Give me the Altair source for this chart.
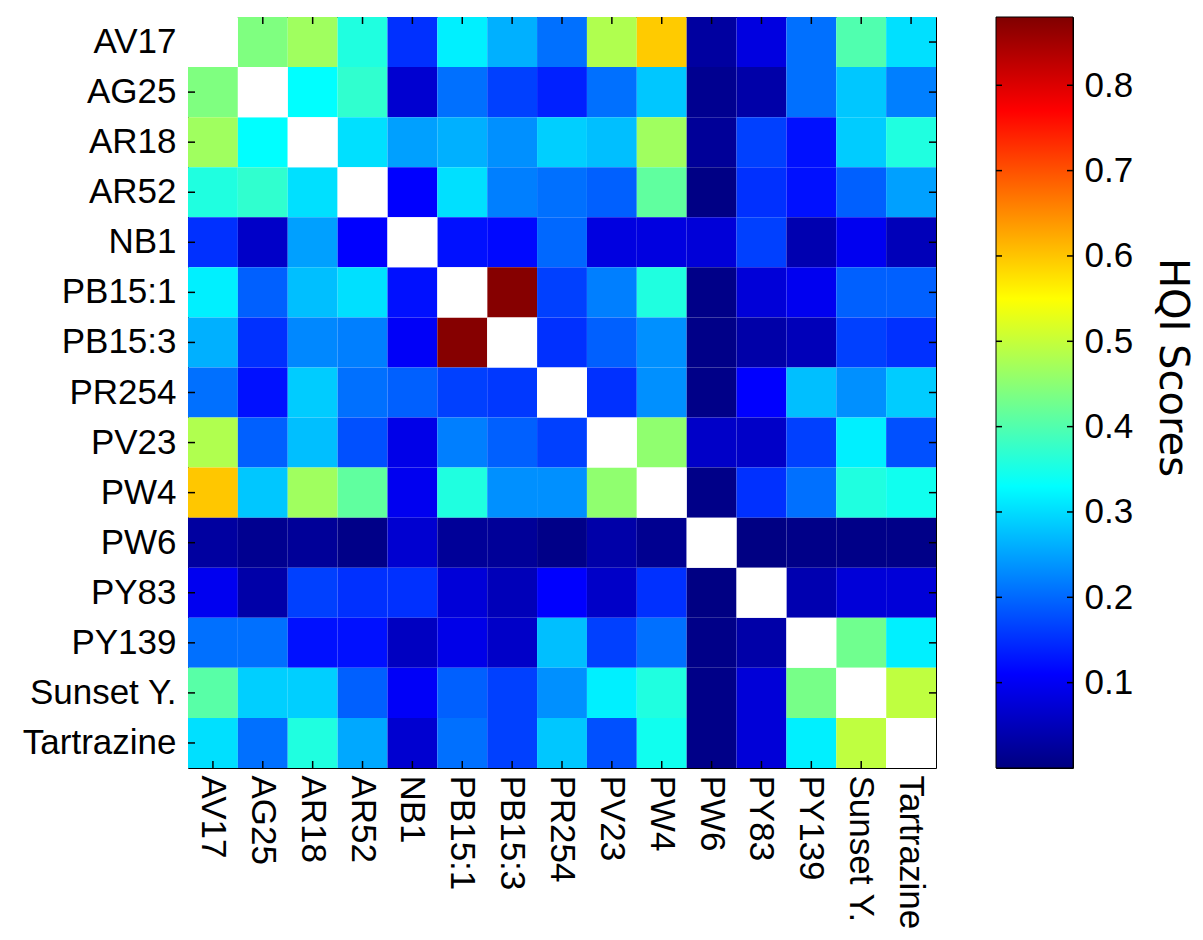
import altair as alt
import pandas as pd

pigments = ["AV17", "AG25", "AR18", "AR52", "NB1", "PB15:1", "PB15:3", "PR254",
            "PV23", "PW4", "PW6", "PY83", "PY139", "Sunset Y.", "Tartrazine"]

# HQI scores, row by row (diagonal left empty)
row_AV17 = [None, .440, .468, .357, .151, .317, .262, .207, .482, .595, .028, .083, .207, .399, .303]
row_AG25 = [.440, None, .330, .371, .069, .207, .165, .138, .207, .282, .014, .035, .207, .282, .220]
row_AR18 = [.468, .330, None, .303, .248, .262, .234, .289, .275, .468, .021, .165, .124, .286, .357]
row_AR52 = [.357, .371, .303, None, .110, .303, .220, .207, .193, .413, .004, .151, .124, .193, .248]
row_NB1 = [.151, .062, .248, .110, None, .124, .117, .200, .083, .083, .076, .165, .042, .097, .049]
row_PB151 = [.317, .193, .275, .303, .124, None, .875, .165, .220, .357, .007, .076, .097, .193, .193]
row_PB153 = [.262, .151, .227, .220, .104, .875, None, .151, .193, .234, .007, .035, .049, .165, .151]
row_PR254 = [.207, .124, .286, .207, .193, .165, .158, None, .151, .234, .007, .110, .275, .234, .286]
row_PV23 = [.482, .193, .275, .179, .090, .220, .193, .165, None, .454, .062, .062, .165, .317, .179]
row_PW4 = [.598, .282, .468, .413, .097, .357, .234, .234, .454, None, .007, .151, .207, .357, .344]
row_PW6 = [.028, .014, .021, .007, .069, .021, .021, .007, .035, .014, None, .003, .007, .007, .007]
row_PY83 = [.097, .035, .165, .151, .151, .076, .049, .110, .062, .151, .003, None, .042, .076, .076]
row_PY139 = [.207, .207, .124, .124, .056, .090, .062, .275, .165, .207, .007, .035, None, .427, .317]
row_Sunset = [.406, .289, .289, .193, .104, .193, .165, .234, .317, .357, .007, .076, .433, None, .495]
row_Tartrazine = [.303, .207, .357, .255, .069, .207, .165, .282, .179, .344, .007, .076, .317, .495, None]

rows = [row_AV17, row_AG25, row_AR18, row_AR52, row_NB1, row_PB151, row_PB153, row_PR254,
        row_PV23, row_PW4, row_PW6, row_PY83, row_PY139, row_Sunset, row_Tartrazine]

cb_ticks = [0.1, 0.2, 0.3, 0.4, 0.5, 0.6, 0.7, 0.8]
cb_min, cb_max = 0.0, 0.88
jet_colors = ["#000080", "#0000ff", "#00ffff", "#ffff00", "#ff0000", "#800000"]
jet_offsets = [0.0, 0.125, 0.375, 0.625, 0.875, 1.0]

records = []
for i, (name, vals) in enumerate(zip(pigments, rows)):
    for j, v in enumerate(vals):
        records.append({"row": name, "col": pigments[j], "hqi": v, "diag": i == j})
df = pd.DataFrame(records)
cells = df[~df["diag"]].copy()
diag = df[df["diag"]].copy()
tick_df = pd.DataFrame({"row": pigments, "col": pigments})

W, H = 748, 751
FONT = "Liberation Sans"

band = alt.Scale(paddingInner=0, paddingOuter=0)
x_enc = alt.X("col:N", sort=pigments, scale=band,
              axis=alt.Axis(title=None, labelAngle=90, labelFontSize=35, labelFont=FONT,
                            labelColor="black", labelPadding=7, ticks=False, domain=False,
                            labelAlign="left", labelBaseline="middle"))
y_enc = alt.Y("row:N", sort=pigments, scale=band,
              axis=alt.Axis(title=None, labelFontSize=35, labelFont=FONT, labelColor="black",
                            labelPadding=12, ticks=False, domain=False))

jet_scale = alt.Scale(domain=[cb_max * o for o in jet_offsets], range=jet_colors,
                      interpolate="rgb", clamp=True)

heat = alt.Chart(cells).mark_rect().encode(
    x=x_enc, y=y_enc,
    color=alt.Color("hqi:Q", scale=jet_scale, legend=None),
)

tick_len = 7
top_ticks = alt.Chart(tick_df).mark_rule(color="black", strokeWidth=1.5).encode(
    x=x_enc, y=alt.value(0), y2=alt.value(tick_len))
bot_ticks = alt.Chart(tick_df).mark_rule(color="black", strokeWidth=1.5).encode(
    x=x_enc, y=alt.value(H - tick_len), y2=alt.value(H))
left_ticks = alt.Chart(tick_df).mark_rule(color="black", strokeWidth=1.5).encode(
    y=y_enc, x=alt.value(0), x2=alt.value(tick_len))
right_ticks = alt.Chart(tick_df).mark_rule(color="black", strokeWidth=1.5).encode(
    y=y_enc, x=alt.value(W - tick_len), x2=alt.value(W))

diag_cells = alt.Chart(diag).mark_rect(color="white").encode(x=x_enc, y=y_enc)

heatmap = alt.layer(heat, top_ticks, bot_ticks, left_ticks, right_ticks, diag_cells).properties(
    width=W, height=H)

# colour bar
CBW = 77
cb_y = alt.Y("lo:Q", scale=alt.Scale(domain=[cb_min, cb_max], nice=False, zero=False),
             axis=alt.Axis(orient="right", values=cb_ticks, format=".1f", ticks=False, domain=False,
                           grid=False, labelFontSize=35, labelFont=FONT, labelColor="black",
                           labelPadding=11, title="HQI Scores", titleFont="DejaVu Sans",
                           titleFontSize=40, titleFontWeight="normal", titleColor="black",
                           titleAngle=90, titleX=86, titleY=350, titleAlign="center",
                           titleBaseline="alphabetic"))
cb_df = pd.DataFrame({"lo": [cb_min], "hi": [cb_max]})
grad = alt.LinearGradient(
    gradient="linear",
    stops=[alt.GradientStop(color=c, offset=o) for c, o in zip(jet_colors, jet_offsets)],
    x1=0, x2=0, y1=1, y2=0)
cbar = alt.Chart(cb_df).mark_rect(fill=grad, stroke="black", strokeWidth=1).encode(
    y=cb_y, y2="hi:Q", x=alt.value(0), x2=alt.value(CBW))
cb_tick_df = pd.DataFrame({"lo": cb_ticks})
cb_lt = alt.Chart(cb_tick_df).mark_rule(color="black", strokeWidth=1.5).encode(
    y=cb_y, x=alt.value(0), x2=alt.value(6))
cb_rt = alt.Chart(cb_tick_df).mark_rule(color="black", strokeWidth=1.5).encode(
    y=cb_y, x=alt.value(CBW - 6), x2=alt.value(CBW))
colorbar = alt.layer(cbar, cb_lt, cb_rt).properties(width=CBW, height=H)

chart = alt.hconcat(heatmap, colorbar, spacing=56).properties(
    padding={"left": 21, "top": 15, "right": 5, "bottom": 0},
    background="white",
).configure_view(stroke="black", strokeWidth=1)

chart.save("out.html", embed_options={"renderer": "svg", "actions": False})
